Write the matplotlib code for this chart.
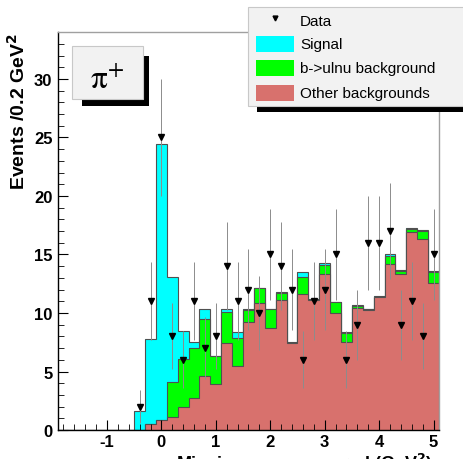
"""
Missing mass squared distribution for the pi+ channel:
stacked signal / b->ulnu / other backgrounds with data points on top.
"""
import numpy as np
import matplotlib.pyplot as plt
from matplotlib.patches import Rectangle
from matplotlib.ticker import MultipleLocator

# bin centers (0.2 GeV^2 bins) and stacked histogram heights
bin_centers = [-1.8, -1.6, -1.4, -1.2, -1.0, -0.8, -0.6,
               -0.4, -0.2, 0.0, 0.2, 0.4, 0.6, 0.8, 1.0, 1.2, 1.4,
               1.6, 1.8, 2.0, 2.2, 2.4, 2.6, 2.8, 3.0, 3.2, 3.4,
               3.6, 3.8, 4.0, 4.2, 4.4, 4.6, 4.8, 5.0]

# other backgrounds (bottom of the stack)
other_bkg = [0, 0, 0, 0, 0, 0, 0,
             0.0, 0.5, 0.85, 1.1, 2.0, 2.7, 4.6, 3.9, 7.4, 5.5,
             9.2, 10.85, 8.7, 11.1, 7.4, 11.6, 11.1, 13.33, 10.0, 7.55,
             10.4, 10.25, 11.35, 14.2, 13.33, 16.9, 16.3, 12.56]
# other + b->ulnu
bulnu_stack = [0, 0, 0, 0, 0, 0, 0,
               0.0, 0.5, 0.85, 4.1, 6.1, 7.05, 9.45, 6.3, 10.1, 7.9,
               10.25, 12.1, 10.3, 11.75, 7.45, 13.05, 11.15, 14.1, 10.9, 8.26,
               10.6, 10.3, 11.4, 14.85, 13.6, 17.2, 17.0, 13.5]
# other + b->ulnu + signal
signal_stack = [0, 0, 0, 0, 0, 0, 0,
                1.6, 7.8, 24.4, 13.05, 8.5, 7.55, 10.3, 6.35, 10.3, 8.35,
                10.3, 12.15, 10.35, 11.8, 7.5, 13.5, 11.2, 14.3, 10.95, 8.4,
                10.65, 10.35, 11.45, 15.05, 13.65, 17.25, 17.05, 13.55]

# data counts
data_x = [-0.4, -0.2, 0.0, 0.2, 0.4, 0.6, 0.8, 1.0, 1.2, 1.4,
          1.6, 1.8, 2.0, 2.2, 2.4, 2.6, 2.8, 3.0, 3.2, 3.4,
          3.6, 3.8, 4.0, 4.2, 4.4, 4.6, 4.8, 5.0]
data_n = [2, 11, 25, 8, 6, 11, 7, 8, 14, 11,
          12, 10, 15, 14, 12, 6, 11, 12, 15, 6,
          9, 16, 16, 17, 9, 11, 8, 15]

c_signal = '#00ffff'
c_bulnu = '#00ff00'
c_other = '#d8716d'
c_edge = '#505050'

plt.rcParams['font.family'] = ['Liberation Sans', 'DejaVu Sans']
plt.rcParams['axes.unicode_minus'] = False

fig = plt.figure(figsize=(4.64, 4.60), dpi=100)
ax = fig.add_axes([0.125, 0.063, 0.821, 0.865])

centers = np.array(bin_centers)
edges = np.append(centers - 0.1, centers[-1] + 0.1)

# stacked histograms, back to front
for vals, col in [(signal_stack, c_signal), (bulnu_stack, c_bulnu), (other_bkg, c_other)]:
    ax.stairs(vals, edges, fill=True, facecolor=col, edgecolor='none')
    ax.stairs(vals, edges, fill=False, color=c_edge, lw=0.8)

# data: triangles with sqrt(N) error bars
dn = np.array(data_n, dtype=float)
ax.vlines(data_x, dn - np.sqrt(dn), dn + np.sqrt(dn), color='#8c8c8c', lw=0.7, zorder=4)
ax.plot(data_x, dn, 'v', color='black', ms=4.5, zorder=5)

ax.set_xlim(-1.9, 5.1)
ax.set_ylim(0, 34)

ax.xaxis.set_major_locator(MultipleLocator(1))
ax.xaxis.set_minor_locator(MultipleLocator(0.2))
ax.yaxis.set_major_locator(MultipleLocator(5))
ax.yaxis.set_minor_locator(MultipleLocator(1))
ax.tick_params(which='both', direction='in', top=False, right=False)
ax.tick_params(which='major', length=7, width=0.8)
ax.tick_params(which='minor', length=4, width=0.6)
ax.tick_params(axis='y', which='major', pad=4)
ax.tick_params(axis='x', which='major', pad=3)
for lab in ax.get_xticklabels() + ax.get_yticklabels():
    lab.set_fontsize(12)
    lab.set_fontweight('bold')

for side in ['top', 'right']:
    ax.spines[side].set_color('#a0a0a0')
    ax.spines[side].set_linewidth(1.0)
for side in ['left', 'bottom']:
    ax.spines[side].set_color('black')
    ax.spines[side].set_linewidth(1.0)

ax.set_ylabel(r'Events /0.2 GeV$^\mathbf{2}$', fontsize=14, fontweight='bold', loc='top')
ax.yaxis.set_label_coords(-0.077, 1.0)

# x title sits at the very bottom edge
fig.text(0.933, 0.017, 'Missing mass squared (GeV$^\\mathbf{2}$)', fontsize=13,
         fontweight='bold', ha='right', va='top')

# pi+ label box with drop shadow (pixel coords, top-down)
W, H = 464.0, 460.0


def fig_rect(x0, y0, x1, y1, **kw):
    r = Rectangle((x0 / W, 1 - y1 / H), (x1 - x0) / W, (y1 - y0) / H,
                  transform=fig.transFigure, **kw)
    fig.patches.append(r)


fig_rect(82, 57, 149, 107, facecolor='black', edgecolor='none', zorder=10)
fig_rect(72, 47, 143, 100, facecolor='#f2f2f2', edgecolor='#c8c8c8', lw=0.8, zorder=11)
fig.text(107 / W, 1 - 80 / H, r'$\mathrm{\pi}^{+}$', fontsize=24, ha='center', va='center',
         math_fontfamily='stix', zorder=12)

# legend box with drop shadow
fig_rect(257, 15, 470, 113, facecolor='black', edgecolor='none', zorder=10)
fig_rect(248, 8, 470, 107, facecolor='#f2f2f2', edgecolor='#c8c8c8', lw=0.8, zorder=11)

entries = [('Data', None), ('Signal', c_signal),
           ('b->ulnu background', c_bulnu), ('Other backgrounds', c_other)]
row_y = [22, 45, 69, 94]
for (label, col), y in zip(entries, row_y):
    if col is None:
        fig.lines.append(plt.Line2D([275 / W], [1 - 19 / H], marker='v', color='black',
                                    ms=3.5, transform=fig.transFigure, zorder=12))
    else:
        fig_rect(256, y - 8, 294, y + 8, facecolor=col, edgecolor='none', zorder=12)
    fig.text(300 / W, 1 - y / H, label, fontsize=11, ha='left', va='center', zorder=12)

fig.savefig('out.png', dpi=100)
